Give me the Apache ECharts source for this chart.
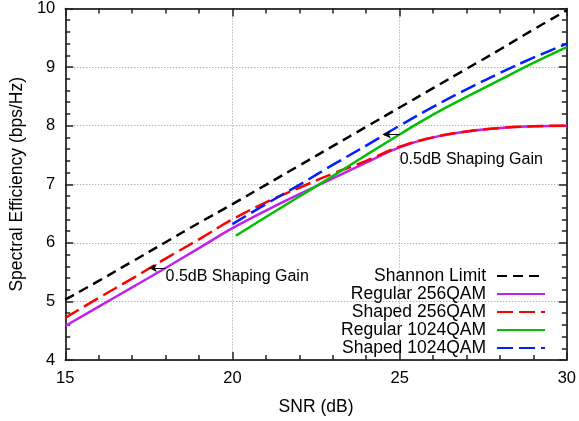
<!DOCTYPE html>
<html>
<head>
<meta charset="utf-8">
<script src="https://cdn.jsdelivr.net/npm/echarts@6/dist/echarts.min.js"></script>
<style>
  html, body { margin: 0; padding: 0; background: #fff; }
  #chart { width: 579px; height: 421px; }
</style>
</head>
<body>
<div id="chart"></div>
<script>
// values
var snrA = [15, 16, 17, 18, 19, 20, 21, 22, 23, 24, 25, 26, 27, 28, 29, 30];
var shannon = [5.03, 5.35, 5.68, 6.01, 6.34, 6.66, 6.99, 7.32, 7.65, 7.98, 8.31, 8.64, 8.97, 9.30, 9.64, 9.97];
var reg256 = [4.58, 4.91, 5.24, 5.57, 5.91, 6.25, 6.55, 6.83, 7.10, 7.37, 7.63, 7.80, 7.90, 7.96, 7.99, 8.00];
var shp256 = [4.72, 5.06, 5.39, 5.73, 6.06, 6.40, 6.69, 6.94, 7.18, 7.40, 7.64, 7.80, 7.90, 7.96, 7.99, 8.00];

var snrB = [20.1, 21, 22, 23, 24, 25, 26, 27, 28, 29, 30];
var reg1024 = [6.12, 6.44, 6.79, 7.14, 7.50, 7.85, 8.19, 8.49, 8.78, 9.07, 9.34];
var snrC = [20, 21, 22, 23, 24, 25, 26, 27, 28, 29, 30];
var shp1024 = [6.32, 6.66, 6.99, 7.33, 7.66, 8.00, 8.32, 8.62, 8.90, 9.16, 9.40];

var gainText = '0.5dB Shaping Gain';

var FONT = 'Liberation Sans';

function pairs(xs, ys) {
    return xs.map(function (x, i) { return [x, ys[i]]; });
}

// frame axis with ticks pointing into the plot (gnuplot style)
function frameAxis(pos, min, max, interval) {
    return {
        type: 'value', position: pos, min: min, max: max, interval: interval,
        axisLine: { show: true, onZero: false, lineStyle: { color: '#000', width: 1.5 } },
        axisTick: { show: true, inside: true, length: 8, lineStyle: { color: '#222', width: 1.5 } },
        minorTick: { show: true, splitNumber: 5, length: 5, lineStyle: { color: '#222', width: 1.5 } },
        axisLabel: { show: false },
        splitLine: { show: false }
    };
}

var xMain = frameAxis('bottom', 15, 30, 5);
xMain.axisLabel = { show: true, color: '#000', fontSize: 16.5, fontFamily: FONT, margin: 10 };
xMain.splitLine = { show: true, lineStyle: { color: '#999', width: 1, type: [1, 2] } };
xMain.name = 'SNR (dB)';
xMain.nameLocation = 'middle';
xMain.nameGap = 38;
xMain.nameTextStyle = { color: '#000', fontSize: 17.5, fontFamily: FONT };

var yMain = frameAxis('left', 4, 10, 1);
yMain.axisLabel = { show: true, color: '#000', fontSize: 16.5, fontFamily: FONT, margin: 10 };
yMain.splitLine = { show: true, lineStyle: { color: '#999', width: 1, type: [1, 2] } };
yMain.name = 'Spectral Efficiency (bps/Hz)';
yMain.nameLocation = 'middle';
yMain.nameGap = 38;
yMain.nameTextStyle = { color: '#000', fontSize: 17.5, fontFamily: FONT };

var chart = echarts.init(document.getElementById('chart'));

var option = {
    animation: false,
    grid: { left: 64, right: 12, top: 8, bottom: 59 },
    xAxis: [xMain, frameAxis('top', 15, 30, 5)],
    yAxis: [yMain, frameAxis('right', 4, 10, 1)],
    legend: {
        orient: 'vertical',
        right: 28,
        top: 262,
        align: 'right',
        itemWidth: 48,
        itemHeight: 10,
        itemGap: 0,
        itemStyle: { opacity: 0 },
        textStyle: { color: '#000', fontSize: 17.5, fontFamily: FONT, padding: [0, 6, 0, 0] },
        data: ['Shannon Limit', 'Regular 256QAM', 'Shaped 256QAM', 'Regular 1024QAM', 'Shaped 1024QAM']
    },
    series: [
        {
            name: 'Shannon Limit', type: 'line', showSymbol: false, symbol: 'none', smooth: true,
            data: pairs(snrA, shannon),
            lineStyle: { color: '#000', width: 2.5, type: [10, 6] },
            itemStyle: { color: '#000' }
        },
        {
            name: 'Regular 256QAM', type: 'line', showSymbol: false, symbol: 'none', smooth: true,
            data: pairs(snrA, reg256),
            lineStyle: { color: '#c020f0', width: 2.5 },
            itemStyle: { color: '#c020f0' }
        },
        {
            name: 'Shaped 256QAM', type: 'line', showSymbol: false, symbol: 'none', smooth: true,
            data: pairs(snrA, shp256),
            lineStyle: { color: '#ff0000', width: 2.5, type: [16, 6] },
            itemStyle: { color: '#ff0000' },
            markLine: {
                silent: true, symbol: ['none', 'arrow'], symbolSize: [6, 8],
                label: { show: false },
                lineStyle: { color: '#000', width: 1, type: 'solid' },
                data: [[{ coord: [18, 5.57] }, { coord: [17.5, 5.57] }]]
            },
            markPoint: {
                silent: true, symbol: 'circle', symbolSize: 0,
                label: { show: true, position: 'right', distance: 0, color: '#000', fontSize: 16, fontFamily: FONT, formatter: gainText },
                data: [{ coord: [18, 5.42] }]
            }
        },
        {
            name: 'Regular 1024QAM', type: 'line', showSymbol: false, symbol: 'none', smooth: true,
            data: pairs(snrB, reg1024),
            lineStyle: { color: '#00c000', width: 2.5 },
            itemStyle: { color: '#00c000' }
        },
        {
            name: 'Shaped 1024QAM', type: 'line', showSymbol: false, symbol: 'none', smooth: true,
            data: pairs(snrC, shp1024),
            lineStyle: { color: '#0020ff', width: 2.5, type: [16, 6] },
            itemStyle: { color: '#0020ff' },
            markLine: {
                silent: true, symbol: ['none', 'arrow'], symbolSize: [6, 8],
                label: { show: false },
                lineStyle: { color: '#000', width: 1, type: 'solid' },
                data: [[{ coord: [25, 7.85] }, { coord: [24.5, 7.85] }]]
            },
            markPoint: {
                silent: true, symbol: 'circle', symbolSize: 0,
                label: { show: true, position: 'right', distance: 0, color: '#000', fontSize: 16, fontFamily: FONT, formatter: gainText },
                data: [{ coord: [25, 7.42] }]
            }
        }
    ]
};

chart.setOption(option);
</script>
</body>
</html>
